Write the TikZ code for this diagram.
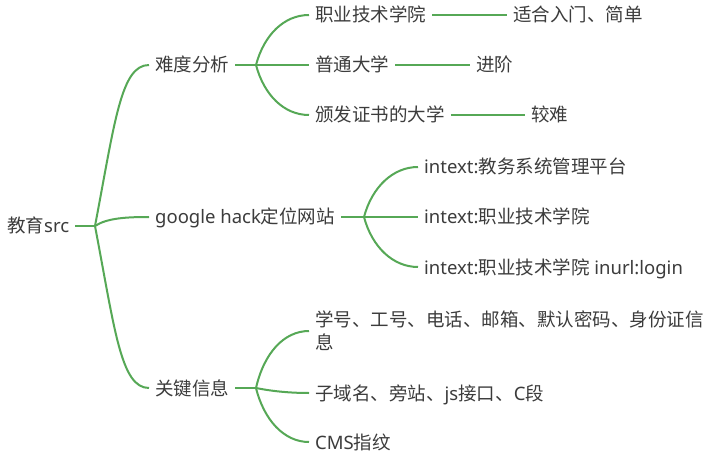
\documentclass[tikz,border=0pt]{standalone}
\usepackage{fontspec}
\setmainfont{Noto Sans}
\newfontfamily\cjk{Noto Sans CJK SC}
\newfontfamily\lat{Noto Sans}
\usetikzlibrary{positioning}
\definecolor{branchgreen}{RGB}{86,168,86}
\definecolor{topictext}{RGB}{60,60,60}
\tikzstyle{topic} = [anchor=west, inner xsep=6pt, inner ysep=0pt, text height=14pt, text depth=0pt, text=topictext, font=\cjk\fontsize{18.5}{23}\selectfont]
\tikzstyle{para} = [anchor=west, inner xsep=6pt, inner ysep=0pt, align=left, text=topictext, font=\cjk\fontsize{18.5}{23}\selectfont]
\tikzstyle{link} = [draw=branchgreen, line width=2pt]

\begin{document}
\begin{tikzpicture}[x=1pt, y=-1pt]
        \useasboundingbox [fill=white] (0,0) rectangle (728,465);
        \node [topic] (root) at (1,226) {教育{\lat src}};
        \coordinate (rootFork) at (95,226);
        \node [topic] (nandu) at (149,65) {难度分析};
        \node [topic] (google) at (149,217) {{\lat google hack}定位网站};
        \node [topic] (guanjian) at (149,388) {关键信息};

        \coordinate (nanduFork) at (256,65);
        \node [topic] (zhiye) at (309,15) {职业技术学院};
        \node [topic] (putong) at (309,65) {普通大学};
        \node [topic] (banfa) at (309,115) {颁发证书的大学};
        \node [topic] (rumen) at (507,15) {适合入门、简单};
        \node [topic] (jinjie) at (470,65) {进阶};
        \node [topic] (jiaonan) at (525,115) {较难};

        \coordinate (googleFork) at (364,217);
        \node [topic] (jiaowu) at (418,167) {{\lat intext:}教务系统管理平台};
        \node [topic] (xueyuan) at (418,217) {{\lat intext:}职业技术学院};
        \node [topic] (login) at (418,267) {{\lat intext:}职业技术学院{\lat\ inurl:login}};

        \coordinate (guanjianFork) at (256,388);
        \node [para] (xuehao) at (309,331) {学号、工号、电话、邮箱、默认密码、身份证信\\息};
        \node [topic] (ziyu) at (309,393) {子域名、旁站、{\lat js}接口、{\lat C}段};
        \node [topic] (cms) at (309,442) {{\lat CMS}指纹};

        \path [link] (root.east) edge (rootFork);
        \draw [link] (rootFork) .. controls +(20,-105) and +(-28,0) .. (nandu.west);
        \draw [link] (rootFork) .. controls +(12,-8) and +(-22,0) .. (google.west);
        \draw [link] (rootFork) .. controls +(20,105) and +(-28,0) .. (guanjian.west);

        \path [link] (nandu.east) edge (putong.west);
        \draw [link] (nanduFork) .. controls +(8,-30) and +(-25,0) .. (zhiye.west);
        \draw [link] (nanduFork) .. controls +(8,30) and +(-25,0) .. (banfa.west);
        \path [link] (zhiye.east) edge (rumen.west);
        \path [link] (putong.east) edge (jinjie.west);
        \path [link] (banfa.east) edge (jiaonan.west);

        \path [link] (google.east) edge (xueyuan.west);
        \draw [link] (googleFork) .. controls +(8,-30) and +(-25,0) .. (jiaowu.west);
        \draw [link] (googleFork) .. controls +(8,30) and +(-25,0) .. (login.west);

        \path [link] (guanjian.east) edge (guanjianFork);
        \draw [link] (guanjianFork) .. controls +(8,-35) and +(-25,0) .. (xuehao.west);
        \draw [link] (guanjianFork) .. controls +(10,2) and +(-25,0) .. (ziyu.west);
        \draw [link] (guanjianFork) .. controls +(8,32) and +(-25,0) .. (cms.west);
    \end{tikzpicture}
\end{document}
